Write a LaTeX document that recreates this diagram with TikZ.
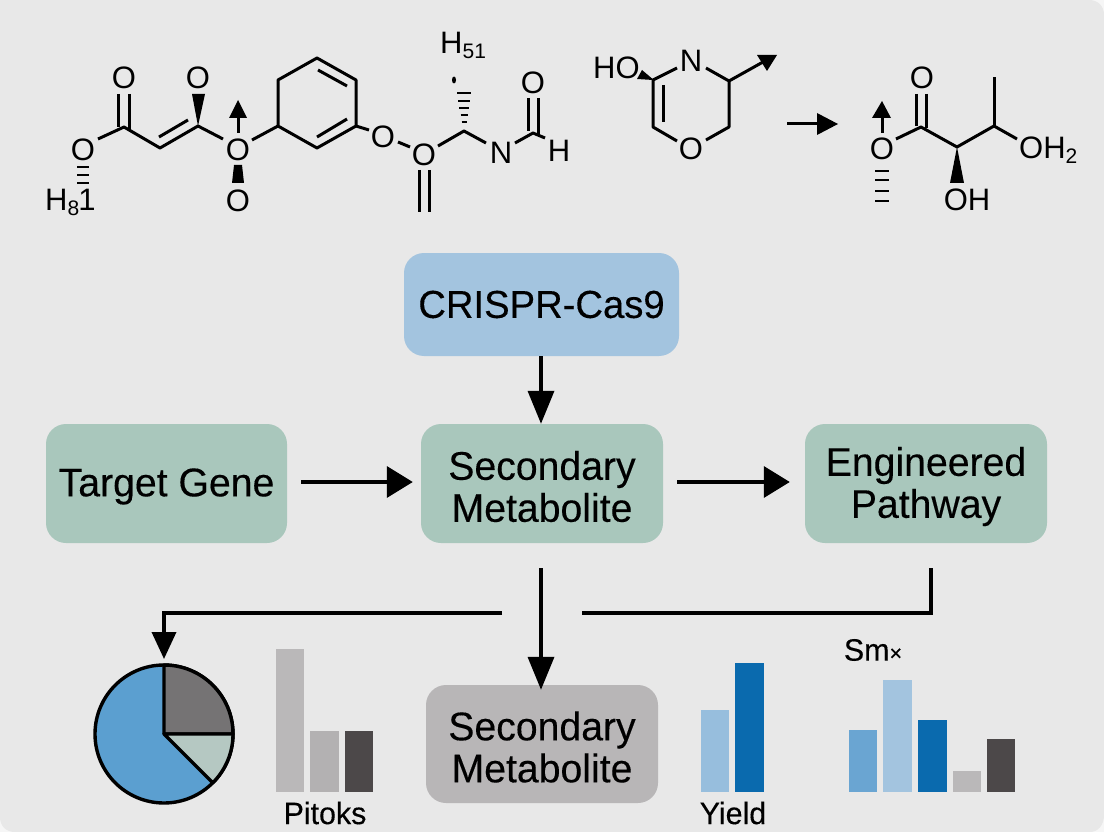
\documentclass[tikz,border=0pt]{standalone}
\usepackage{fontspec}
\setmainfont{Liberation Sans}
\newfontfamily\labfont[FakeBold=0.25,FakeStretch=0.98]{Liberation Sans}
\usetikzlibrary{arrows.meta}
\definecolor{bgc}{HTML}{E8E8E8}
\definecolor{cornerc}{HTML}{F6F6F6}
\definecolor{blueb}{HTML}{A3C4DF}
\definecolor{greenb}{HTML}{A9C7BC}
\definecolor{greyb}{HTML}{B8B6B7}
\definecolor{pieb}{HTML}{5B9FD0}
\definecolor{pieg}{HTML}{757374}
\definecolor{piel}{HTML}{B5C8C2}
\definecolor{barA}{HTML}{BAB8B9}
\definecolor{barB}{HTML}{B3B1B2}
\definecolor{barC}{HTML}{4C4849}
\definecolor{barD}{HTML}{97BEDD}
\definecolor{barE}{HTML}{0A6AAE}
\definecolor{barF}{HTML}{6AA5D2}
\newcommand\dn[1]{\raisebox{-3pt}[\height][\depth]{#1}}
\newcommand\subs[1]{\raisebox{-5pt}{\fontsize{21}{21}\selectfont #1}}
\tikzset{
  box/.style={rounded corners=20pt,inner sep=0pt,align=center,font=\labfont\fontsize{40}{42}\selectfont,text=black},
  bond/.style={line width=3pt,line cap=butt,line join=round,black},
  hb/.style={line width=2.6pt,black},
  atom/.style={inner sep=0pt,font=\fontsize{31}{32}\selectfont,text=black},
  flowv/.style={line width=3.6pt,black,-{Triangle[length=33pt,width=26pt]}},
  flowh/.style={line width=3.6pt,black,-{Triangle[length=26pt,width=31pt]}},
  flowp/.style={line width=3.6pt,black,line join=miter},
  chartcap/.style={inner sep=0pt,font=\labfont\fontsize{31}{32}\selectfont,text=black},
  slice/.style={draw=black,line width=3.4pt,line join=round}
}
\begin{document}
\begin{tikzpicture}[x=1pt,y=-1pt]
\useasboundingbox (0,0) rectangle (1104,832);
\fill[cornerc] (0,0) rectangle (1104,832);
\fill[bgc] (0,0) -- (1089,0) .. controls (1098,0) and (1104,6) .. (1104,15) -- (1104,815) .. controls (1104,825) and (1098,832) .. (1090,832) -- (15,832) .. controls (6,832) and (0,826) .. (0,817) -- cycle;

% left molecule
\node[atom] (o1) at (124,78) {O};
\node[atom] (o2) at (83,150) {O};
\node[atom] (o3) at (198,78) {O};
\node[atom] (o4) at (238,150) {O};
\node[atom] (o5) at (238,201) {O};
\node[atom] (o6) at (383,137) {O};
\node[atom] (o7) at (424,155) {O};
\node[atom] (n1) at (501,153) {N};
\node[atom] (h1) at (559,151) {H};
\node[atom] (o8) at (533,83) {O};
\node[atom,anchor=west] (h81) at (45,202) {H\subs{8}\kern-1pt 1};
\node[atom,anchor=west] (h51) at (440,45) {H\subs{51}};
\coordinate (c1) at (124,127);
\coordinate (c2) at (160,148);
\coordinate (c3) at (198,126);
\coordinate (r1) at (278,126);
\coordinate (r2) at (278,80);
\coordinate (r3) at (317,58);
\coordinate (r4) at (356,80);
\coordinate (r5) at (356,126);
\coordinate (r6) at (317,148);
\coordinate (c4) at (464,131);
\coordinate (c5) at (533,133);
\draw[bond] (118,94) -- (118,127) (129,94) -- (129,130);
\draw[bond] (98,139) -- (c1) -- (c2) -- (c3) -- (223,139);
\draw[bond] (159,137) -- (188,120);
\fill (c3) -- (192,94) -- (205,94) -- cycle;
\draw[bond] (238,133) -- (238,116);
\fill (238,100) -- (229,118) -- (247,118) -- cycle;
\fill (234,165) -- (242,165) -- (244,183) -- (232,183) -- cycle;
\draw[bond] (252,140) -- (r1);
\draw[bond] (r1) -- (r2) -- (r3) -- (r4) -- (r5) -- (r6) -- cycle;
\draw[bond] (318,70) -- (347,86) (317,137) -- (347,119);
\draw[bond] (r5) -- (369,130);
\draw[bond] (398,142) -- (410,147);
\draw[bond] (419,170) -- (419,212) (429,170) -- (429,212);
\draw[bond] (438,146) -- (c4) -- (486,143);
\draw[bond] (515,143) -- (c5) -- (545,138);
\draw[bond] (528,98) -- (528,131) (538,98) -- (538,134);
\foreach \yy/\w in {93/7,101/6,108/5,115/3.5,122/2.5} \draw[hb] (464-\w,\yy) -- (464+\w,\yy);
\fill (454,80) ellipse (2pt and 3.5pt);
\foreach \yy/\w in {167/6,175/6,183/6} \draw[hb] (83-\w,\yy) -- (83+\w,\yy);

% middle ring
\node[atom,anchor=west] (ho) at (593,68) {HO};
\node[atom] (n2) at (691,61) {N};
\node[atom] (o9) at (691,149) {O};
\coordinate (m1) at (653,80);
\coordinate (m2) at (653,127);
\coordinate (m3) at (729,127);
\coordinate (m4) at (729,81);
\coordinate (mt) at (777,55);
\draw[bond] (677,68) -- (m1) -- (m2) -- (677,141);
\draw[bond] (663,85) -- (663,122);
\fill (642,70) -- (637,79) -- (m1) -- (655,81) -- cycle;
\draw[bond] (706,140) -- (m3) -- (m4) -- (706,68);
\draw[bond] (m4) -- (763,62);
\fill (mt) -- (757,55) -- (767,71) -- cycle;
\coordinate (ra) at (787,124);
\coordinate (rb) at (838,124);
\draw[bond] (ra) -- (820,124);
\fill (rb) -- (817,113) -- (817,135) -- cycle;

% right molecule
\node[atom] (o10) at (882,149) {O};
\node[atom] (o11) at (922,78) {O};
\node[atom] (oh1) at (967,200) {OH};
\node[atom,anchor=west] (oh2) at (1019,150) {OH\subs{2}};
\coordinate (d1) at (921,127);
\coordinate (d2) at (957,147);
\coordinate (d3) at (994,126);
\draw[bond] (882,133) -- (882,115);
\fill (882,101) -- (872,118) -- (891,118) -- cycle;
\foreach \yy in {171,180,191,201} \draw[hb] (875,\yy) -- (889,\yy);
\draw[bond] (896,139) -- (d1) -- (d2) -- (d3) -- (1017,139);
\draw[bond] (d3) -- (994,77);
\draw[bond] (916,94) -- (916,126) (926,94) -- (926,128);
\fill (d2) -- (950,183) -- (964,183) -- cycle;

% boxes
\node[box,font=\labfont\fontsize{39}{42}\selectfont,fill=blueb,minimum width=275pt,minimum height=103pt] (crispr) at (541.5,304.5) {\raisebox{-3pt}{CRISPR-Cas9}};
\node[box,fill=greenb,minimum width=241pt,minimum height=119pt] (tg) at (166.5,483.5) {\dn{Target Gene}};
\node[box,fill=greenb,minimum width=242pt,minimum height=119pt] (sm) at (542,483.5) {\dn{Secondary}\\\dn{Metabolite}};
\node[box,fill=greenb,minimum width=242pt,minimum height=119pt] (ep) at (926,483.5) {\dn{Engineered}\\\dn{Pathway}};
\node[box,fill=greyb,minimum width=232pt,minimum height=118pt] (sm2) at (542,744) {\dn{Secondary}\\\dn{Metabolite}};

% connectors
\draw[flowv] (crispr.south -| 541,0) -- (sm.north -| 541,0);
\draw[flowh,shorten <=14pt,shorten >=8pt] (tg.east |- 0,482) -- (sm.west |- 0,482);
\draw[flowh,shorten <=14pt,shorten >=15pt] (sm.east |- 0,482) -- (ep.west |- 0,482);
\draw[flowv,shorten <=25pt,shorten >=-5pt] (sm.south -| 541,0) -- (sm2.north -| 541,0);
\coordinate (sp1) at (502,613);
\coordinate (sp2) at (582,613);
\coordinate (pietop) at (164,659);
\draw[line width=3.6pt,black,line join=miter,-{Triangle[length=27pt,width=24pt]}] (sp1) -- (164,613) -- (pietop);
\draw[flowp] (sp2) -- (931,613) -- ([yshift=-25pt]ep.south -| 931,0);

% pie
\coordinate (pc) at (164,734);
\filldraw[slice,fill=pieb] (pc) circle[radius=69pt];
\filldraw[slice,fill=pieg] (pc) -- (233,734) arc[start angle=0,end angle=90,radius=69pt] -- cycle;
\filldraw[slice,fill=piel] (pc) -- (212.8,782.8) arc[start angle=-45,end angle=0,radius=69pt] -- cycle;

% bars
\fill[barA] (276,649) rectangle (304,792);
\fill[barB] (310,731) rectangle (339,792);
\fill[barC] (345,731) rectangle (373,792);
\node[chartcap] (l1) at (325,813) {Pitoks};
\fill[barD] (701,710) rectangle (729,792);
\fill[barE] (735,663) rectangle (764,792);
\node[chartcap] (l2) at (733,813) {Yield};
\node[chartcap] (l3) at (873,650) {Sm{\fontsize{22}{22}\selectfont ×}};
\fill[barF] (849,730) rectangle (877,792);
\fill[blueb] (883,680) rectangle (912,792);
\fill[barE] (918,720) rectangle (947,792);
\fill[barA] (953,771) rectangle (981,792);
\fill[barC] (987,739) rectangle (1015,792);
\end{tikzpicture}
\end{document}
